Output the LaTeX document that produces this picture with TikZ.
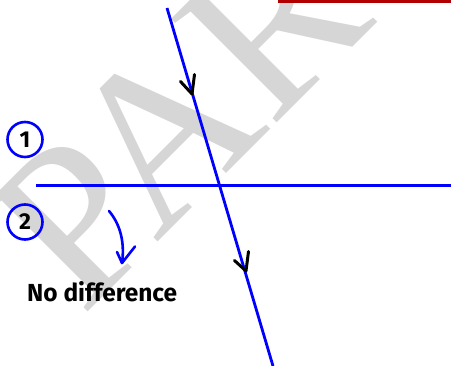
\documentclass[tikz,border=0pt]{standalone}
\usepackage{fontspec}
\setmainfont{Fira Sans}
\newfontfamily\wmfont{Liberation Serif}
\begin{document}
\begin{tikzpicture}[x=1pt,y=-1pt,
  ray/.style={draw=blue, line width=2.8pt},
  tipmark/.style={draw=black, line width=3pt, line cap=round, line join=round},
  numcirc/.style={circle, draw=blue, line width=2.6pt, minimum size=35pt, inner sep=0pt, font=\bfseries\fontsize{23}{23}\selectfont},
  lbl/.style={inner sep=0pt, anchor=base west, font=\bfseries\fontsize{22}{22}\selectfont}]
\useasboundingbox (0,0) rectangle (451,366);
\begin{scope}
\clip (0,0) rectangle (451,366);
% watermark
\node[anchor=base west, rotate=45, inner sep=0pt, text=black!16, font=\wmfont\fontsize{226}{226}\selectfont] (wm) at (82,318) {PAR};
% red bar
\fill[red!70!black] (278,0) rectangle (451,2.8);
\end{scope}
% lines
\coordinate (s1) at (167,8);
\coordinate (s2) at (273,366);
\coordinate (h1) at (36,185.5);
\coordinate (h2) at (451,185.5);
\draw[ray] (h1) -- (h2);
\draw[ray] (s1) -- (s2);
% arrow marks
\coordinate (t1) at (192,94);
\coordinate (a1) at (180.5,81.5);
\coordinate (b1) at (194.5,74.5);
\draw[tipmark] (a1) -- (t1) -- (b1);
\coordinate (t2) at (246,271);
\coordinate (a2) at (234.5,260.5);
\coordinate (b2) at (248.5,251.5);
\draw[tipmark] (a2) -- (t2) -- (b2);
% numbered circles
\node[numcirc] (n1) at (25,139.5) {1};
\node[numcirc] (n2) at (25,222) {2};
% curved arrow
\coordinate (c1) at (109,211);
\coordinate (c2) at (122,263);
\coordinate (ca) at (117,252);
\coordinate (cb) at (135,246.5);
\draw[draw=blue, line width=2.6pt, line cap=round] (c1) .. controls (120,224) and (125,242) .. (c2);
\draw[draw=blue, line width=2.6pt, line cap=round, line join=round] (ca) -- (c2) -- (cb);
% label
\node[lbl] (nd) at (27,302) {\resizebox{150pt}{20pt}{No difference}};
\end{tikzpicture}
\end{document}
